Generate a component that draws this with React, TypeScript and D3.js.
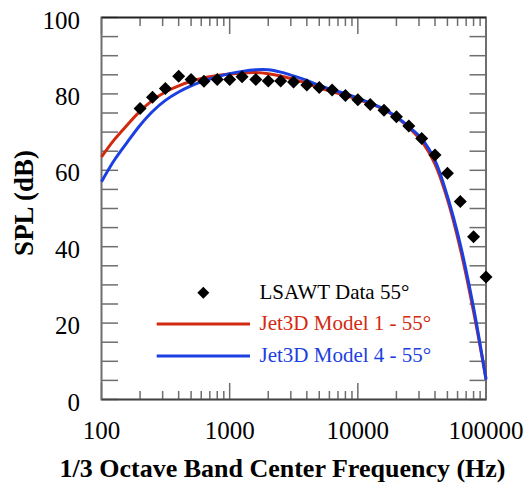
import React from "react";
import * as d3 from "d3";

const freqs = [100, 125, 160, 200, 250, 315, 400, 500, 630, 800, 1000, 1250, 1600, 2000, 2500, 3150, 4000, 5000, 6300, 8000, 10000, 12500, 16000, 20000, 25000, 31500, 40000, 50000, 63000, 80000, 100000];
const model1 = [63.5, 67.9, 72.0, 75.5, 78.3, 80.5, 82.1, 83.3, 84.2, 84.8, 85.2, 85.5, 85.6, 85.3, 84.7, 83.8, 82.8, 81.6, 80.6, 79.6, 78.6, 77.4, 75.9, 73.9, 71.2, 67.6, 61.6, 52.4, 39.5, 23, 5.5];
const model4 = [57, 62.5, 67.5, 71.8, 75.4, 78.3, 80.5, 82.1, 83.4, 84.5, 85.3, 85.9, 86.3, 86.3, 85.7, 84.7, 83.5, 82.2, 81.1, 80.0, 78.9, 77.6, 76.0, 74.0, 71.4, 68.3, 62.6, 53.2, 40.6, 24, 5.2];

const dataFreqs = [200, 250, 315, 400, 500, 630, 800, 1000, 1250, 1600, 2000, 2500, 3150, 4000, 5000, 6300, 8000, 10000, 12500, 16000, 20000, 25000, 31500, 40000, 50000, 63000, 80000, 100000];
const dataSpl = [76.2, 79.1, 81.4, 84.6, 83.8, 83.3, 83.8, 83.8, 84.5, 83.8, 83.4, 83.4, 83.1, 82.3, 81.7, 81.0, 79.6, 78.5, 77.2, 75.7, 74.0, 71.6, 68.3, 64.0, 59.2, 51.8, 42.6, 32.1];

const xTickLabels = [100, 1000, 10000, 100000];
const yTickLabels = [0, 20, 40, 60, 80, 100];
const legendLabels = ["LSAWT Data 55°", "Jet3D Model 1 - 55°", "Jet3D Model 4 - 55°"];

const RED = "#d22a10";
const BLUE = "#1b3fe0";
const FRAME = "#6e6e6e";
const SERIF = "Liberation Serif";

export default function App() {
  const W = 528, H = 489;
  const L = 101.5, R = 486, T = 17.5, B = 399.5;
  const x = d3.scaleLog().domain([100, 100000]).range([L, R]);
  const y = d3.scaleLinear().domain([0, 100]).range([B, T]);

  const line = d3.line<[number, number]>()
    .x(d => x(d[0]))
    .y(d => y(d[1]))
    .curve(d3.curveCatmullRom.alpha(0.5));

  const m1 = line(freqs.map((f, i) => [f, model1[i]]) as [number, number][]) || "";
  const m4 = line(freqs.map((f, i) => [f, model4[i]]) as [number, number][]) || "";

  const minorX: number[] = [];
  for (let dec = 100; dec < 100000; dec *= 10) {
    for (let k = 2; k <= 9; k++) minorX.push(dec * k);
  }
  const yTicks = d3.range(0, 101, 5);

  const diamond = (cx: number, cy: number, r: number) =>
    `M${cx},${cy - r}L${cx + r},${cy}L${cx},${cy + r}L${cx - r},${cy}Z`;

  return (
    <svg width={W} height={H} style={{ position: "absolute", left: 0, top: 0, background: "#fff" }}>
      <rect x={0} y={0} width={W} height={H} fill="#fff" />
      <g stroke={FRAME} strokeWidth={1.5}>
        {minorX.map(f => (
          <g key={"mx" + f}>
            <line x1={x(f)} x2={x(f)} y1={B} y2={B - 8.5} />
            <line x1={x(f)} x2={x(f)} y1={T} y2={T + 8.5} />
          </g>
        ))}
        {xTickLabels.map(f => (
          <g key={"Mx" + f}>
            <line x1={x(f)} x2={x(f)} y1={B} y2={B - 16.5} />
            <line x1={x(f)} x2={x(f)} y1={T} y2={T + 16.5} />
          </g>
        ))}
        {yTicks.map(v => (
          <g key={"y" + v}>
            <line x1={L} x2={L + 16.5} y1={y(v)} y2={y(v)} />
            <line x1={R} x2={R - 16.5} y1={y(v)} y2={y(v)} />
          </g>
        ))}
      </g>
      <rect x={L} y={T} width={R - L} height={B - T} fill="none" stroke={FRAME} strokeWidth={2} />
      <line x1={L} x2={R} y1={T} y2={T} stroke="#222" strokeWidth={1.5} />
      <line x1={L} x2={R} y1={B} y2={B} stroke="#444" strokeWidth={1.5} />

      <path d={m1} fill="none" stroke={RED} strokeWidth={3} />
      <path d={m4} fill="none" stroke={BLUE} strokeWidth={3} />

      {dataFreqs.map((f, i) => (
        <path key={"d" + f} d={diamond(x(f), y(dataSpl[i]), 6.5)} fill="#000" />
      ))}

      <g style={{ fontFamily: SERIF, fontSize: "25px" }} fill="#000">
        {xTickLabels.map(f => (
          <text key={"xl" + f} x={x(f)} y={439} textAnchor="middle">{f}</text>
        ))}
        {yTickLabels.map(v => (
          <text key={"yl" + v} x={80} y={y(v) + 11} textAnchor="end">{v}</text>
        ))}
      </g>

      <text x={282.5} y={477} textAnchor="middle" style={{ fontFamily: SERIF, fontWeight: "bold", fontSize: "26px" }}>
        1/3 Octave Band Center Frequency (Hz)
      </text>
      <text transform="translate(33,203) rotate(-90)" textAnchor="middle" style={{ fontFamily: SERIF, fontWeight: "bold", fontSize: "27px" }}>
        SPL (dB)
      </text>

      <g style={{ fontFamily: SERIF, fontSize: "21px" }}>
        <path d={diamond(203.3, 292.7, 6)} fill="#000" />
        <text x={259.5} y={298.5} fill="#000">{legendLabels[0]}</text>
        <line x1={156.7} x2={250} y1={324} y2={324} stroke={RED} strokeWidth={3} />
        <text x={259.5} y={329.5} fill={RED}>{legendLabels[1]}</text>
        <line x1={156.7} x2={250} y1={356} y2={356} stroke={BLUE} strokeWidth={3} />
        <text x={259.5} y={361.8} fill={BLUE}>{legendLabels[2]}</text>
      </g>
    </svg>
  );
}
